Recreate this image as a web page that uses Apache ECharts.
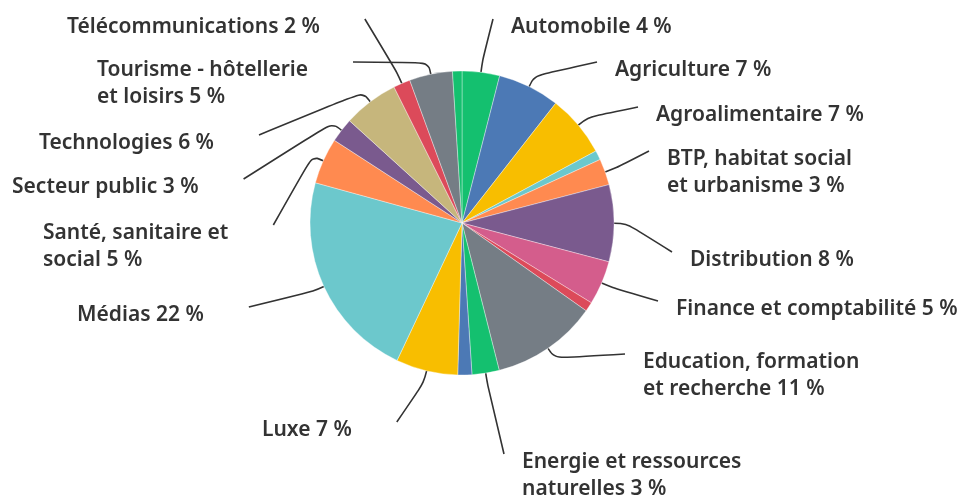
<!DOCTYPE html>
<html>
<head>
<meta charset="utf-8">
<script src="https://cdn.jsdelivr.net/npm/echarts@6/dist/echarts.min.js"></script>
<style>
  html, body { margin: 0; padding: 0; background: #fff; }
  #chart { width: 964px; height: 496px; }
</style>
</head>
<body>
<div id="chart"></div>
<script>
// sectors clockwise from 12 o'clock; '' = small unlabeled slice
let sectors = ['Automobile', 'Agriculture', 'Agroalimentaire', '', 'BTP, habitat social\net urbanisme',
    'Distribution', 'Finance et comptabilité', '', 'Education, formation\net recherche',
    'Energie et ressources\nnaturelles', '', 'Luxe', 'Médias', 'Santé, sanitaire et\nsocial',
    'Secteur public', 'Technologies', 'Télécommunications', 'Tourisme - hôtellerie\net loisirs', ''];
let shares = [4, 6.6, 6.6, 1, 2.8, 8.2, 4.7, 1, 11.3, 2.9, 1.5, 6.6, 22.3, 4.9, 2.6, 5.9, 1.8, 4.6, 1];
let shownPct = [4, 7, 7, null, 3, 8, 5, null, 11, 3, null, 7, 22, 5, 3, 6, 2, 5, null];

let palette = ['#14c06f', '#4c79b5', '#f8be00', '#6cc8cc', '#ff8a50', '#7a5a8e', '#d45d8c', '#dc4a5a',
    '#757d85', '#14c06f', '#4c79b5', '#f8be00', '#6cc8cc', '#ff8a50', '#7a5a8e', '#c6b67c',
    '#dc4a5a', '#757d85', '#14c06f'];

// label anchors: left edge x, first-line centre y
let labelPos = {
    0: [511, 27], 1: [615, 70], 2: [656, 115], 4: [667, 159], 5: [690, 260], 6: [676, 309],
    8: [643, 362], 9: [522, 462], 11: [262, 430], 12: [77, 315], 13: [43, 233], 14: [12, 187],
    15: [39, 143], 16: [67, 27], 17: [97, 70]
};

let cx = 462, cy = 223;
let lineH = 27;

let chart = echarts.init(document.getElementById('chart'));

let seriesData = sectors.map(function (name, i) {
    let item = { name: name || ('_' + i), value: shares[i], itemStyle: { color: palette[i] } };
    if (shownPct[i] === null) {
        item.label = { show: false };
        item.labelLine = { show: false };
    }
    return item;
});

let option = {
    animation: false,
    series: [{
        type: 'pie',
        center: [cx, cy],
        radius: 152,
        startAngle: 90,
        clockwise: true,
        avoidLabelOverlap: false,
        data: seriesData,
        itemStyle: { borderColor: 'rgba(255,255,255,0.6)', borderWidth: 0.6 },
        label: {
            show: true,
            position: 'outside',
            fontFamily: 'Noto Sans',
            fontWeight: 600,
            fontSize: 21,
            lineHeight: lineH,
            color: '#333',
            formatter: function (p) {
                return sectors[p.dataIndex] + ' ' + shownPct[p.dataIndex] + ' %';
            }
        },
        labelLine: {
            show: true,
            length: 12,
            length2: 10,
            smooth: 0.4,
            lineStyle: { color: '#333', width: 1.6 }
        },
        labelLayout: function (params) {
            let pos = labelPos[params.dataIndex];
            if (!pos || !params.labelLinePoints) return {};
            let w = params.labelRect.width;
            let lines = sectors[params.dataIndex].split('\n').length;
            let x = pos[0];
            let y = pos[1] + (lines - 1) * lineH / 2;
            let p0 = params.labelLinePoints[0];
            let dx = p0[0] - cx, dy = p0[1] - cy;
            let len = Math.sqrt(dx * dx + dy * dy);
            let p1 = [p0[0] + dx / len * 12, p0[1] + dy / len * 12];
            let endY = pos[1] - 8;
            let rightSide = p0[0] >= cx - 60 && x > p0[0] - 20;
            let p2 = rightSide ? [x - 18, endY] : [Math.min(x + w + 45, p1[0]), endY];
            return {
                x: x,
                y: y,
                align: 'left',
                verticalAlign: 'middle',
                labelLinePoints: [p0, p1, p2]
            };
        }
    }]
};
chart.setOption(option);
</script>
</body>
</html>
